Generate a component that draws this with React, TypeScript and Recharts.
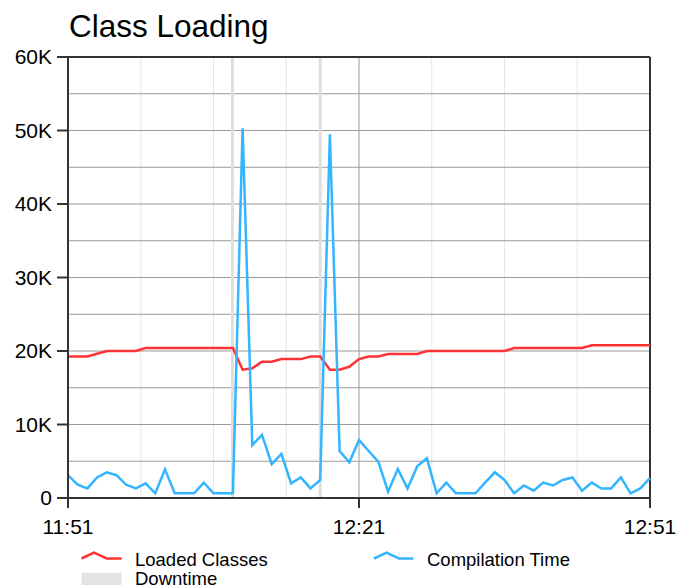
import React from 'react';
import {
  CartesianGrid,
  Line,
  LineChart,
  ReferenceArea,
  ReferenceLine,
  XAxis,
  YAxis,
} from 'recharts';

// minutes since 11:51, one sample per minute
const minutes = Array.from({ length: 61 }, (_, i) => i);

const loadedClasses = [
  19250, 19250, 19250, 19620, 20000, 20000, 20000, 20000, 20400, 20400,
  20400, 20400, 20400, 20400, 20400, 20400, 20400, 20400, 17450, 17650,
  18550, 18550, 18900, 18900, 18900, 19250, 19250, 17450, 17450, 17850,
  18900, 19250, 19250, 19600, 19600, 19600, 19600, 20000, 20000, 20000,
  20000, 20000, 20000, 20000, 20000, 20000, 20400, 20400, 20400, 20400,
  20400, 20400, 20400, 20400, 20770, 20770, 20770, 20770, 20770, 20770,
  20770,
];

const compilationTime = [
  3100, 1800, 1300, 2800, 3500, 3100, 1800, 1300, 2000, 640,
  3900, 640, 640, 640, 2100, 640, 640, 640, 50300, 7200,
  8600, 4600, 6000, 2000, 2800, 1300, 2450, 49500, 6400, 4850,
  7900, 6400, 4900, 860, 3950, 1300, 4300, 5400, 640, 2100,
  640, 640, 640, 2100, 3500, 2450, 640, 1700, 1000, 2100,
  1700, 2450, 2800, 1000, 2100, 1300, 1300, 2800, 640, 1300,
  2700,
];

// downtime windows, in minutes since 11:51
const downtimeStart = [16.8, 25.85];
const downtimeEnd = [17.1, 26.15];

const xTicks = [0, 30, 60];
const xTickLabels = ['11:51', '12:21', '12:51'];
const minorXLines = [7.5, 15, 22.5, 37.5, 45, 52.5];
const yTicks = [0, 10000, 20000, 30000, 40000, 50000, 60000];
const yTickLabels = ['0', '10K', '20K', '30K', '40K', '50K', '60K'];
const yGridLines = [5000, 10000, 15000, 20000, 25000, 30000, 35000, 40000, 45000, 50000, 55000];

const RED = '#ff3333';
const BLUE = '#33b5ff';
const FONT = '"Liberation Sans", Arial, sans-serif';

const data = minutes.map((t, i) => ({
  t,
  loaded: loadedClasses[i],
  compile: compilationTime[i],
}));

const App = () => {
  return (
    <div style={{ position: 'absolute', left: 0, top: 0, width: 676, height: 585, fontFamily: FONT }}>
      <LineChart
        width={676}
        height={585}
        data={data}
        margin={{ top: 57, right: 26, bottom: 57, left: 0 }}
      >
        <CartesianGrid horizontal={false} verticalValues={minorXLines} stroke="#e6e6e6" strokeWidth={1} />
        <CartesianGrid vertical={false} horizontalValues={yGridLines} stroke="#9a9a9a" strokeWidth={1} />
        <ReferenceLine x={30} stroke="#9a9a9a" strokeWidth={1} />
        {downtimeStart.map((s, i) => (
          <ReferenceArea key={i} x1={s} x2={downtimeEnd[i]} fill="#dedede" fillOpacity={1} stroke="none" />
        ))}
        <XAxis
          dataKey="t"
          type="number"
          domain={[0, 60]}
          ticks={xTicks}
          tickFormatter={(v) => xTickLabels[xTicks.indexOf(v)]}
          height={30}
          tickSize={10}
          tickMargin={11}
          stroke="#333"
          strokeWidth={2}
          tick={{ fill: '#000', fontSize: 21, fontFamily: FONT }}
        />
        <YAxis
          type="number"
          domain={[0, 60000]}
          ticks={yTicks}
          tickFormatter={(v) => yTickLabels[yTicks.indexOf(v)]}
          width={68}
          tickSize={11}
          tickMargin={5}
          stroke="#333"
          strokeWidth={2}
          tick={{ fill: '#000', fontSize: 21, fontFamily: FONT }}
        />
        <ReferenceLine y={60000} stroke="#333" strokeWidth={2} />
        <ReferenceLine x={60} stroke="#333" strokeWidth={2} />
        <Line
          type="linear"
          dataKey="loaded"
          stroke={RED}
          strokeWidth={2.5}
          dot={false}
          isAnimationActive={false}
        />
        <Line
          type="linear"
          dataKey="compile"
          stroke={BLUE}
          strokeWidth={2.5}
          dot={false}
          isAnimationActive={false}
        />
      </LineChart>
      <svg
        width={676}
        height={585}
        style={{ position: 'absolute', left: 0, top: 0, pointerEvents: 'none' }}
      >
        <text x={69} y={37} fontSize={31.5} fontFamily={FONT} fill="#000">
          Class Loading
        </text>
        <path d="M81.5,558.5 L94,552.7 L106.7,558.5 L121.7,558.5" stroke={RED} strokeWidth={2.5} fill="none" />
        <text x={135} y={566} fontSize={18.5} fontFamily={FONT} fill="#000">
          Loaded Classes
        </text>
        <path d="M374,558.5 L386.5,552.7 L399,558.5 L413.5,558.5" stroke={BLUE} strokeWidth={2.5} fill="none" />
        <text x={427} y={566} fontSize={18.5} fontFamily={FONT} fill="#000">
          Compilation Time
        </text>
        <rect x={81.5} y={572.7} width={40} height={13} fill="#e3e3e3" />
        <text x={135} y={584.5} fontSize={18.5} fontFamily={FONT} fill="#000">
          Downtime
        </text>
      </svg>
    </div>
  );
};

export default App;
